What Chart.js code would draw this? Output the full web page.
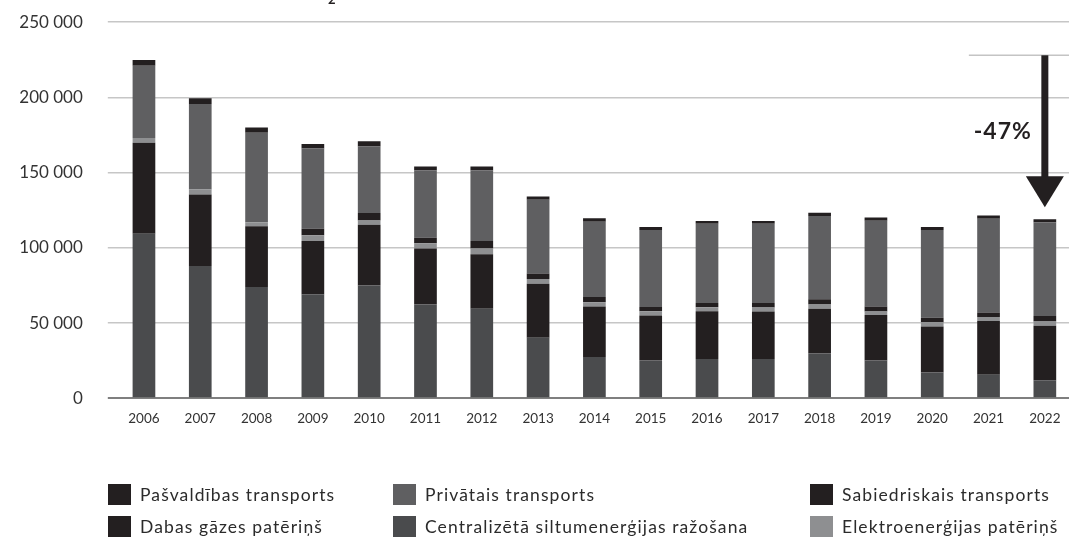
<!DOCTYPE html>
<html lang="lv">
<head>
<meta charset="utf-8">
<script src="https://cdn.jsdelivr.net/npm/chart.js@4.4.1/dist/chart.umd.min.js"></script>
<style>
    html, body { margin: 0; padding: 0; background: #fff; }
    #wrap { position: relative; width: 1069px; height: 538px; overflow: hidden; font-family: Lato, "Open Sans", sans-serif; }
    #grafiks { position: absolute; left: 0; top: -13px; }
    .leg { position: absolute; display: flex; align-items: center; font-size: 17.5px; letter-spacing: 1.1px; color: #2b2b2b; white-space: nowrap; }
    .leg .box { width: 23px; height: 21px; margin-right: 9px; flex: none; }
</style>
</head>
<body>
<div id="wrap">
    <canvas id="grafiks" width="1073" height="551"></canvas>
    <div id="legenda"></div>
</div>
<script>
const gadi = ["2006", "2007", "2008", "2009", "2010", "2011", "2012", "2013", "2014", "2015", "2016", "2017", "2018", "2019", "2020", "2021", "2022"];

// no apakšas uz augšu
const centralizeta  = [109400, 87900, 73900, 69100, 75000, 62400, 59600, 40300, 27400, 25200, 26100, 26100, 29700, 25200, 17100, 15700, 12000];
const dabasGaze     = [60400, 47600, 40500, 35400, 40300, 37200, 36100, 35900, 33700, 29900, 31700, 31600, 29900, 30100, 30700, 35600, 36300];
const elektro       = [3300, 3300, 2700, 3800, 2900, 3500, 3800, 3100, 2700, 2700, 2700, 2700, 2700, 2400, 2700, 2700, 2700];
const sabiedriskais = [0, 0, 0, 4400, 4900, 3600, 5000, 3600, 3500, 2900, 2900, 2900, 3500, 3300, 3100, 3100, 3700];
const privatais     = [48000, 56900, 59400, 53300, 44300, 44900, 47100, 49100, 50100, 51100, 52700, 52700, 55300, 57100, 58200, 62200, 62400];
const pasvaldibas   = [3800, 3700, 3500, 3100, 3500, 2500, 2500, 2200, 2200, 2000, 1800, 1900, 2200, 2000, 2000, 2200, 2000];

const yTicks = [0, 50000, 100000, 150000, 200000, 250000];

// bulta: no 2006. gada līmeņa līdz 2022. gadam
const bultaNo = 228000;
const bultaLidz = 127000;
const bultaTeksts = "-47%";

const legendasSecība = [
    ["Pašvaldības transports", "Privātais transports", "Sabiedriskais transports"],
    ["Dabas gāzes patēriņš", "Centralizētā siltumenerģijas ražošana", "Elektroenerģijas patēriņš"]
];

const fonts = "Lato, 'Open Sans', sans-serif";

function formatet(v) {
    return String(v).replace(/\B(?=(\d{3})+(?!\d))/g, " ");
}

const bultaPlugin = {
    id: "bulta",
    afterDraw(chart) {
        let ctx = chart.ctx;
        let x = chart.scales.x.getPixelForValue(gadi.length - 1);
        let y = chart.scales.y;
        let yNo = y.getPixelForValue(bultaNo);
        let yLidz = y.getPixelForValue(bultaLidz);
        ctx.save();
        ctx.strokeStyle = "#c4c4c4";
        ctx.lineWidth = 1.5;
        ctx.beginPath();
        ctx.moveTo(x - 76, yNo);
        ctx.lineTo(chart.chartArea.right, yNo);
        ctx.stroke();

        ctx.fillStyle = "#231f20";
        ctx.fillRect(x - 3.5, yNo, 7, (yLidz - yNo) - 28);
        ctx.beginPath();
        ctx.moveTo(x - 19, yLidz - 31);
        ctx.lineTo(x + 19, yLidz - 31);
        ctx.lineTo(x, yLidz);
        ctx.closePath();
        ctx.fill();

        ctx.font = "bold 23px " + fonts;
        ctx.letterSpacing = "1px";
        ctx.textAlign = "right";
        ctx.textBaseline = "middle";
        ctx.fillStyle = "#231f20";
        ctx.fillText(bultaTeksts, x - 13, y.getPixelForValue(200000) + 34);

        // nogrieztā virsraksta apakšindekss
        ctx.letterSpacing = "0px";
        ctx.font = "bold 13px " + fonts;
        ctx.textAlign = "left";
        ctx.fillText("2", 328, 13);
        ctx.restore();
    }
};

const ctx = document.getElementById("grafiks").getContext("2d");
const grafiks = new Chart(ctx, {
    type: "bar",
    data: {
        labels: gadi,
        datasets: [
            { label: "Centralizētā siltumenerģijas ražošana", data: centralizeta, backgroundColor: "#4a4b4d" },
            { label: "Dabas gāzes patēriņš", data: dabasGaze, backgroundColor: "#231f20" },
            { label: "Elektroenerģijas patēriņš", data: elektro, backgroundColor: "#8e8f91" },
            { label: "Sabiedriskais transports", data: sabiedriskais, backgroundColor: "#231f20" },
            { label: "Privātais transports", data: privatais, backgroundColor: "#5f5f61" },
            { label: "Pašvaldības transports", data: pasvaldibas, backgroundColor: "#231f20" }
        ]
    },
    options: {
        responsive: false,
        animation: false,
        devicePixelRatio: 1,
        layout: { padding: { top: 9, left: 0, right: 0, bottom: 0 } },
        datasets: { bar: { barPercentage: 0.403, categoryPercentage: 1 } },
        plugins: { legend: { display: false }, tooltip: { enabled: false } },
        scales: {
            x: {
                stacked: true,
                grid: { display: false, drawTicks: false },
                border: { display: false },
                ticks: { color: "#333", font: { family: fonts, size: 13.5 }, padding: 12, maxRotation: 0 },
                afterFit(scale) { scale.height = 139.7; }
            },
            y: {
                stacked: true,
                min: 0,
                max: 250000,
                afterBuildTicks(scale) { scale.ticks = yTicks.map(v => ({ value: v })); },
                grid: {
                    color: c => c.tick && c.tick.value === 0 ? "#7f7f7f" : "#c6c6c6",
                    lineWidth: c => c.tick && c.tick.value === 0 ? 2 : 1.5,
                    tickLength: 8
                },
                border: { display: false },
                ticks: { color: "#333", font: { family: fonts, size: 17 }, padding: 25, callback: v => formatet(v) },
                afterFit(scale) { scale.width = 115.8; }
            }
        }
    },
    plugins: [bultaPlugin]
});

function zimetLegendu() {
    let kont = document.getElementById("legenda");
    let kolonnas = [108, 393, 810];
    let rindas = [484, 516];
    legendasSecība.forEach((rinda, r) => {
        rinda.forEach((nosaukums, k) => {
            let ds = grafiks.data.datasets.find(d => d.label === nosaukums);
            let el = document.createElement("div");
            el.className = "leg";
            el.style.left = kolonnas[k] + "px";
            el.style.top = rindas[r] + "px";
            el.style.height = "21px";
            el.innerHTML = `<span class="box" style="background:${ds.backgroundColor}"></span><span>${nosaukums}</span>`;
            kont.appendChild(el);
        });
    });
}
zimetLegendu();
</script>
</body>
</html>
